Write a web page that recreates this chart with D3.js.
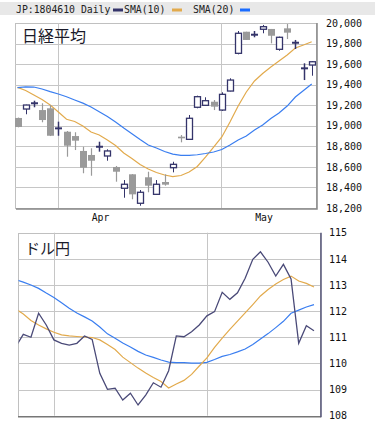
<!DOCTYPE html>
<html><head><meta charset="utf-8">
<script src="https://cdn.jsdelivr.net/npm/d3@7"></script>
<style>
body{margin:0;background:#fff;}
svg text{font-family:"DejaVu Sans Mono",monospace;}
</style></head>
<body><svg id="c" width="375" height="425"></svg>
<script>
// ---------- data ----------
const nikkeiOpen  = [19076,19163,19219,19153,19170,18975,18942,18900,18755,18716,18796,18706,18599,18392,18528,18246,18499,18333,18453,18592,18894,18868,19180,19199,19234,19153,19338,19705,19915,19886,19939,19942,19744,19948,19808,19559,19591];
const nikkeiHigh  = [19080,19205,19244,19219,19202,19040,18949,18937,18796,18781,18845,18771,18609,18472,18530,18375,18553,18472,18528,18650,18910,19105,19293,19277,19251,19326,19462,19922,19915,19922,19981,19942,19867,19990,19835,19608,19630];
const nikkeiLow   = [18985,19112,19180,19034,18900,18903,18699,18764,18538,18514,18748,18660,18456,18300,18285,18222,18353,18330,18417,18547,18839,18862,19170,19195,19153,19144,19335,19695,19835,19861,19900,19802,19730,19844,19747,19445,19487];
const nikkeiClose = [18988,19202,19219,19056,18903,18975,18806,18855,18592,18660,18796,18755,18553,18431,18333,18353,18417,18431,18427,18625,18878,19073,19283,19244,19186,19306,19445,19900,19835,19886,19964,19876,19861,19906,19808,19559,19623];
const nikkeiSma10 = [19374,19343,19299,19256,19202,19134,19063,19042,18998,18939,18910,18862,18808,18735,18682,18623,18579,18545,18521,18506,18516,18550,18604,18696,18793,18891,19037,19192,19329,19436,19509,19572,19630,19689,19757,19786,19818];
const nikkeiSma20 = [19372,19379,19377,19358,19332,19309,19283,19251,19220,19183,19137,19090,19037,18978,18923,18866,18813,18784,18750,18725,18713,18713,18718,18730,18745,18769,18813,18862,18900,18959,19008,19071,19124,19192,19280,19343,19406];
const nikkeiTicks = [18200,18400,18600,18800,19000,19200,19400,19600,19800,20000];

const usdjpy      = [110.63,111.11,111.00,111.92,111.47,110.90,110.77,110.70,110.77,111.05,110.92,109.62,109.01,109.05,108.60,108.86,108.41,108.79,109.26,109.09,109.72,111.05,111.02,111.21,111.47,111.82,111.98,112.72,112.45,112.70,113.26,113.98,114.27,113.87,113.34,113.79,113.23,110.77,111.44,111.25];
const usdjpySma10 = [112.08,111.89,111.64,111.47,111.32,111.19,111.09,111.05,111.03,111.01,110.99,110.90,110.72,110.53,110.24,110.03,109.82,109.63,109.46,109.31,109.06,109.21,109.35,109.58,109.90,110.21,110.61,110.97,111.30,111.62,111.93,112.25,112.58,112.83,113.04,113.21,113.34,113.15,113.06,112.92];
const usdjpySma20 = [113.21,113.11,113.00,112.87,112.69,112.52,112.32,112.11,111.93,111.78,111.62,111.39,111.13,110.96,110.78,110.63,110.46,110.32,110.23,110.13,110.05,110.03,110.03,110.01,110.01,110.04,110.15,110.27,110.34,110.44,110.55,110.72,110.93,111.14,111.37,111.61,111.92,112.04,112.16,112.25];
const usdjpyTicks = [108,109,110,111,112,113,114,115];

const monthLabels = ["Apr","May"];
const nikkeiMonthIdx = [5,25];
const usdjpyMonthIdx = [5,25];

const headerTitle = "JP:1804610 Daily";
const legendNames = ["SMA(10)","SMA(20)"];
const panelTitles = ["日経平均","ドル円"];

// ---------- styles ----------
const NAVY="#34346a", GRAYC="#9a9a9a", ORANGE="#e2aa4c", BLUE="#3a7ef0", GRID="#c6c6c6";

const svg = d3.select("#c");

// header band
svg.append("rect").attr("x",0).attr("y",2).attr("width",375).attr("height",13).attr("fill","#e8e8e8");
svg.append("text").attr("x",16).attr("y",12.5).attr("font-size",9.8).attr("fill","#222").text(headerTitle);
svg.append("rect").attr("x",113).attr("y",8.5).attr("width",10).attr("height",3).attr("fill",NAVY);
svg.append("text").attr("x",124).attr("y",12.5).attr("font-size",9.8).attr("fill","#222").text(legendNames[0]);
svg.append("rect").attr("x",172).attr("y",8.5).attr("width",10).attr("height",3).attr("fill",ORANGE);
svg.append("text").attr("x",193).attr("y",12.5).attr("font-size",9.8).attr("fill","#222").text(legendNames[1]);
svg.append("rect").attr("x",240).attr("y",8.5).attr("width",10).attr("height",3).attr("fill","#1a6cff");

// ---------- top panel ----------
const T = {l:15, r:316, t:23, b:208};
const xT = d3.scaleLinear().domain([0,36]).range([17.5,311.7]);
const yT = d3.scaleLinear().domain([18200,20000]).range([T.b,T.t]);

svg.append("defs").append("clipPath").attr("id","clipT")
  .append("rect").attr("x",T.l).attr("y",T.t).attr("width",T.r-T.l).attr("height",T.b-T.t);
svg.select("defs").append("clipPath").attr("id","clipB")
  .append("rect").attr("x",18.5).attr("y",232.7).attr("width",301).attr("height",183);

const gT = svg.append("g");
gT.append("rect").attr("x",T.l+0.5).attr("y",T.t+0.5).attr("width",T.r-T.l).attr("height",T.b-T.t)
  .attr("fill","#fff").attr("stroke","#c0c0c0");
gT.selectAll("line.hg").data(nikkeiTicks.slice(1,-1)).join("line")
  .attr("x1",T.l).attr("x2",T.r).attr("y1",d=>Math.round(yT(d))+0.5).attr("y2",d=>Math.round(yT(d))+0.5)
  .attr("stroke",GRID);
gT.selectAll("line.vg").data(nikkeiMonthIdx).join("line")
  .attr("x1",d=>Math.round(xT(d-0.1))+0.5).attr("x2",d=>Math.round(xT(d-0.1))+0.5)
  .attr("y1",T.t).attr("y2",T.b).attr("stroke",GRID);
// shadow edges
gT.append("path").attr("d",`M${T.l+1},${T.b+1}H${T.r+1}V${T.t}`).attr("fill","none").attr("stroke","#888").attr("stroke-width",1.5);

const pT = gT.append("g").attr("clip-path","url(#clipT)");
const idx = d3.range(nikkeiOpen.length);
const lineT = d3.line().x((d,i)=>xT(i)).y(d=>yT(d)).curve(d3.curveLinear);
pT.append("path").datum(nikkeiSma10).attr("d",lineT).attr("fill","none").attr("stroke",ORANGE).attr("stroke-width",1.2);
pT.append("path").datum(nikkeiSma20).attr("d",lineT).attr("fill","none").attr("stroke",BLUE).attr("stroke-width",1.2);

const bw = 6;
const candles = pT.selectAll("g.c").data(idx).join("g");
candles.each(function(i){
  const g = d3.select(this);
  const o=nikkeiOpen[i], c=nikkeiClose[i], h=nikkeiHigh[i], lo=nikkeiLow[i];
  const x = Math.round(xT(i))+0.5;
  if (o===c) {
    g.append("line").attr("x1",x).attr("x2",x).attr("y1",yT(h)).attr("y2",yT(lo)).attr("stroke",NAVY).attr("stroke-width",1.5);
    g.append("line").attr("x1",x-3.5).attr("x2",x+3.5).attr("y1",yT(o)).attr("y2",yT(o)).attr("stroke",NAVY).attr("stroke-width",2);
  } else if (c>o) {
    g.append("line").attr("x1",x).attr("x2",x).attr("y1",yT(h)).attr("y2",yT(lo)).attr("stroke",NAVY).attr("stroke-width",1);
    g.append("rect").attr("x",x-bw/2).attr("y",yT(c)).attr("width",bw).attr("height",Math.max(1,yT(o)-yT(c)))
      .attr("fill","#fff").attr("stroke",NAVY).attr("stroke-width",1.3);
  } else {
    g.append("line").attr("x1",x).attr("x2",x).attr("y1",yT(h)).attr("y2",yT(lo)).attr("stroke",GRAYC).attr("stroke-width",1.2);
    g.append("rect").attr("x",x-bw/2-0.5).attr("y",yT(o)).attr("width",bw+1).attr("height",Math.max(1.5,yT(c)-yT(o)))
      .attr("fill",GRAYC);
  }
});

// top y axis
const axT = d3.axisRight(yT).tickValues(nikkeiTicks).tickFormat(d3.format(",")).tickSize(0).tickPadding(10);
const gaT = svg.append("g").attr("transform",`translate(${T.r},0)`).call(axT);
gaT.select(".domain").remove();
gaT.selectAll("text").attr("font-size",10).attr("fill","#111").attr("font-family","DejaVu Sans Mono");

// month labels
svg.selectAll("text.m").data(monthLabels).join("text").attr("class","m")
  .attr("x",(d,i)=>xT(nikkeiMonthIdx[i]-0.1)+43).attr("y",220.5).attr("text-anchor","middle")
  .attr("font-size",9.8).attr("fill","#111").text(d=>d);

// title
svg.append("text").attr("x",22).attr("y",41.5).attr("font-size",16)
  .style("font-family","'Noto Sans CJK JP'").attr("fill","#1a1a2a").text(panelTitles[0]);

// ---------- bottom panel ----------
const B = {l:18, r:320, t:232.7, b:415.7};
const xB = d3.scaleLinear().domain([0,39]).range([15.65,314.0]);
const yB = d3.scaleLinear().domain([108,115]).range([B.b,B.t]);
const gB = svg.append("g");
gB.append("rect").attr("x",B.l+0.5).attr("y",Math.round(B.t)+0.5).attr("width",B.r-B.l).attr("height",B.b-B.t)
  .attr("fill","#fff").attr("stroke","#c0c0c0");
gB.selectAll("line.hg").data(usdjpyTicks.slice(1,-1)).join("line")
  .attr("x1",B.l).attr("x2",B.r).attr("y1",d=>Math.round(yB(d))+0.5).attr("y2",d=>Math.round(yB(d))+0.5)
  .attr("stroke",GRID);
gB.selectAll("line.vg").data(usdjpyMonthIdx).join("line")
  .attr("x1",d=>Math.round(xB(d-0.05))+0.5).attr("x2",d=>Math.round(xB(d-0.05))+0.5)
  .attr("y1",B.t).attr("y2",B.b).attr("stroke",GRID);
gB.append("line").attr("x1",B.l).attr("x2",B.r+1).attr("y1",B.b+1).attr("y2",B.b+1).attr("stroke","#777").attr("stroke-width",1.5);
gB.append("line").attr("x1",B.r+1).attr("x2",B.r+1).attr("y1",B.t).attr("y2",B.b+1.5).attr("stroke","#555577").attr("stroke-width",1.5);

const pB = gB.append("g").attr("clip-path","url(#clipB)");
const lineB = d3.line().x((d,i)=>xB(i)).y(d=>yB(d));
pB.append("path").datum(usdjpySma20).attr("d",lineB).attr("fill","none").attr("stroke",BLUE).attr("stroke-width",1.2);
pB.append("path").datum(usdjpySma10).attr("d",lineB).attr("fill","none").attr("stroke",ORANGE).attr("stroke-width",1.2);
pB.append("path").datum(usdjpy).attr("d",lineB).attr("fill","none").attr("stroke","#4a4a78").attr("stroke-width",1.3);

const axB = d3.axisRight(yB).tickValues(usdjpyTicks).tickFormat(d3.format("d")).tickSize(0).tickPadding(9);
const gaB = svg.append("g").attr("transform",`translate(${B.r},0)`).call(axB);
gaB.select(".domain").remove();
gaB.selectAll("text").attr("font-size",10).attr("fill","#111").attr("font-family","DejaVu Sans Mono");

svg.append("text").attr("x",25).attr("y",254).attr("font-size",15)
  .style("font-family","'Noto Sans CJK JP'").attr("fill","#1a1a2a").text(panelTitles[1]);
</script></body></html>
